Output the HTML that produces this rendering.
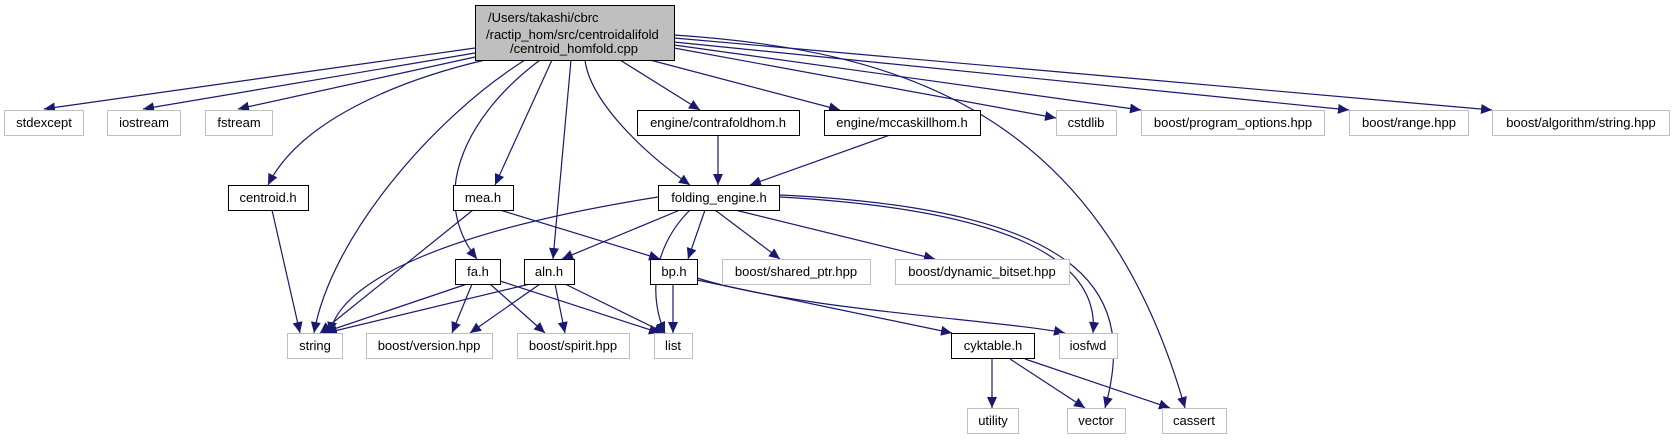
<!DOCTYPE html>
<html><head><meta charset="utf-8"><style>html,body{margin:0;padding:0;background:#fff}svg{display:block}</style></head>
<body>
<svg width="1675" height="440" viewBox="0 0 1675 440" xmlns="http://www.w3.org/2000/svg" font-family="Liberation Sans, sans-serif" font-size="13">
<defs>
<marker id="a" markerUnits="userSpaceOnUse" markerWidth="12" markerHeight="10" refX="11" refY="5" orient="auto">
<path d="M0,0 L11,5 L0,10 z" fill="#191970"/></marker>
</defs>
<g fill="none" stroke="#191970" stroke-width="1.2" marker-end="url(#a)">
<path d="M475,48 L44,109"/>
<path d="M475,53 L143,109"/>
<path d="M475,57 L238,109"/>
<path d="M485,60 C400,80 300,120 268,185"/>
<path d="M525,60 C430,120 330,240 314,333"/>
<path d="M540,60 C460,120 430,200 477,259"/>
<path d="M552,60 L495,185"/>
<path d="M571,60 L553,259"/>
<path d="M585,60 C590,100 640,150 690,185"/>
<path d="M620,60 L700,110"/>
<path d="M650,60 L840,110"/>
<path d="M674,48 L1056,118"/>
<path d="M674,45 L1141,110"/>
<path d="M674,42 L1349,110"/>
<path d="M674,38 L1492,110"/>
<path d="M674,35 C900,50 1100,110 1185,408"/>
<path d="M718,135 L718,185"/>
<path d="M890,135 L750,185"/>
<path d="M272,210 L300,333"/>
<path d="M473,210 L320,333"/>
<path d="M500,210 L660,259"/>
<path d="M658,197 C450,230 340,280 330,333"/>
<path d="M680,210 L562,259"/>
<path d="M690,210 C650,250 650,300 665,333"/>
<path d="M705,210 L688,259"/>
<path d="M715,210 L780,259"/>
<path d="M735,210 L935,259"/>
<path d="M780,197 C1010,210 1100,260 1093,333"/>
<path d="M780,195 C1100,210 1135,300 1105,408"/>
<path d="M467,284 L322,333"/>
<path d="M472,284 L452,333"/>
<path d="M490,284 L545,333"/>
<path d="M500,281 L660,333"/>
<path d="M530,284 L326,333"/>
<path d="M540,284 L470,333"/>
<path d="M555,284 L565,333"/>
<path d="M565,284 L665,333"/>
<path d="M673,284 L673,333"/>
<path d="M697,280 L952,333"/>
<path d="M697,278 C800,310 1000,320 1065,333"/>
<path d="M992,359 L992,408"/>
<path d="M1010,359 L1085,408"/>
<path d="M1025,359 L1170,408"/>
</g>
<g stroke-width="1">
<rect x="475.5" y="5.5" width="199" height="55" fill="#bfbfbf" stroke="#000"/>
<g fill="#fff" stroke="#000">
<rect x="637.5" y="110.5" width="162" height="25"/>
<rect x="824.5" y="110.5" width="156" height="25"/>
<rect x="228.5" y="185.5" width="80" height="25"/>
<rect x="453.5" y="185.5" width="60" height="25"/>
<rect x="658.5" y="185.5" width="121" height="25"/>
<rect x="455.5" y="259.5" width="45" height="25"/>
<rect x="524.5" y="259.5" width="50" height="25"/>
<rect x="650.5" y="259.5" width="47" height="25"/>
<rect x="951.5" y="333.5" width="83" height="25"/>
</g>
<g fill="#fff" stroke="#bfbfbf">
<rect x="4.5" y="110.5" width="79" height="25"/>
<rect x="107.5" y="110.5" width="73" height="25"/>
<rect x="205.5" y="110.5" width="67" height="25"/>
<rect x="1056.5" y="110.5" width="60" height="25"/>
<rect x="1141.5" y="110.5" width="183" height="25"/>
<rect x="1349.5" y="110.5" width="119" height="25"/>
<rect x="1492.5" y="110.5" width="177" height="25"/>
<rect x="722.5" y="259.5" width="148" height="25"/>
<rect x="895.5" y="259.5" width="174" height="25"/>
<rect x="287.5" y="333.5" width="55" height="25"/>
<rect x="366.5" y="333.5" width="126" height="25"/>
<rect x="517.5" y="333.5" width="112" height="25"/>
<rect x="654.5" y="333.5" width="38" height="25"/>
<rect x="1059.5" y="333.5" width="58" height="25"/>
<rect x="967.5" y="408.5" width="51" height="25"/>
<rect x="1067.5" y="408.5" width="58" height="25"/>
<rect x="1162.5" y="408.5" width="64" height="25"/>
</g>
</g>
<g fill="#000">
<text x="488" y="22">/Users/takashi/cbrc</text>
<text x="486" y="39">/ractip_hom/src/centroidalifold</text>
<text x="574" y="53" text-anchor="middle">/centroid_homfold.cpp</text>
<g text-anchor="middle">
<text x="718" y="127">engine/contrafoldhom.h</text>
<text x="902" y="127">engine/mccaskillhom.h</text>
<text x="268" y="202">centroid.h</text>
<text x="483" y="202">mea.h</text>
<text x="719" y="202">folding_engine.h</text>
<text x="478" y="276">fa.h</text>
<text x="549" y="276">aln.h</text>
<text x="674" y="276">bp.h</text>
<text x="993" y="350">cyktable.h</text>
<text x="44" y="127">stdexcept</text>
<text x="144" y="127">iostream</text>
<text x="239" y="127">fstream</text>
<text x="1086" y="127">cstdlib</text>
<text x="1233" y="127">boost/program_options.hpp</text>
<text x="1409" y="127">boost/range.hpp</text>
<text x="1581" y="127">boost/algorithm/string.hpp</text>
<text x="796" y="276">boost/shared_ptr.hpp</text>
<text x="982" y="276">boost/dynamic_bitset.hpp</text>
<text x="315" y="350">string</text>
<text x="429" y="350">boost/version.hpp</text>
<text x="573" y="350">boost/spirit.hpp</text>
<text x="673" y="350">list</text>
<text x="1088" y="350">iosfwd</text>
<text x="993" y="425">utility</text>
<text x="1096" y="425">vector</text>
<text x="1194" y="425">cassert</text>
</g>
</g>
</svg>
</body></html>
